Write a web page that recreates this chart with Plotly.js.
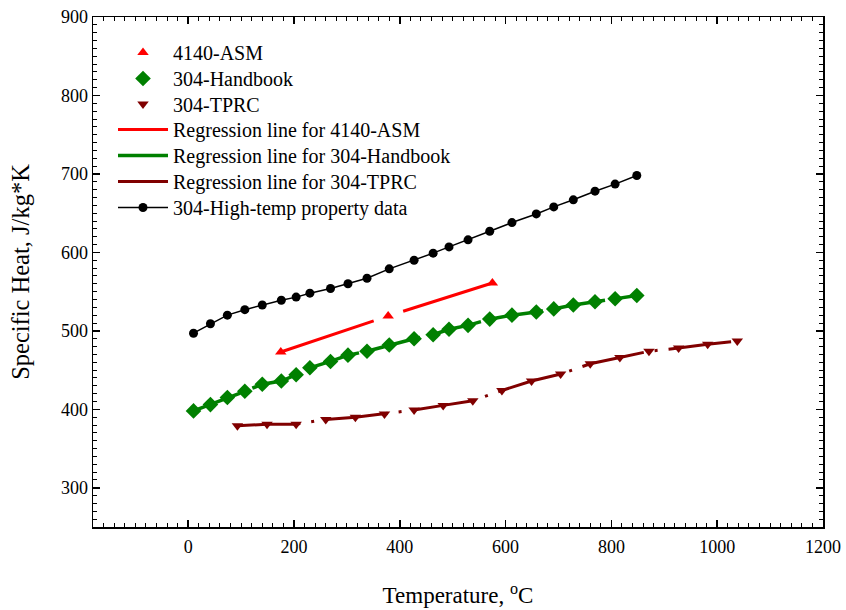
<!DOCTYPE html>
<html>
<head>
<meta charset="utf-8">
<script src="https://cdn.plot.ly/plotly-3.0.1.min.js"></script>
<style>
  html, body { margin: 0; padding: 0; background: #ffffff; }
  #chart { width: 846px; height: 610px; }
</style>
</head>
<body>
<div id="chart"></div>
<script>
// Specific heat of 4140 and 304 steels versus temperature

// 4140 steel, ASM data (°C, J/kg*K)
const tempASM = [175, 378, 575];
const cpASM = [473, 519, 561];

// 304 stainless: handbook values and high-temperature property data share one grid
const temp304 = [10, 42, 74, 107, 140, 176, 204, 230, 269, 302, 338, 380,
                 427, 463, 493, 529, 570, 612, 658, 691, 728, 769, 807, 848];
const cpHandbook = [398, 406, 415, 423, 432, 436, 444, 453, 461, 469, 474, 482,
                    490, 495, 502, 507, 515, 520, 524, 528, 533, 537, 541, 545];
const cpHighTemp = [497, 509, 520, 527, 533, 539, 543, 548, 554, 560, 567, 579,
                    590, 599, 607, 616, 627, 638, 649, 658, 667, 678, 687, 698];

// 304 stainless, TPRC data
const tempTPRC = [93, 149, 204, 260, 316, 371, 427, 482, 538,
                  593, 649, 704, 760, 816, 871, 927, 982, 1038];
const cpTPRC = [379, 381, 381, 387, 390, 394, 399, 405, 411,
                424, 436, 445, 458, 466, 474, 478, 483, 487];

const xTickVals = [0, 200, 400, 600, 800, 1000, 1200];
const yTickVals = [300, 400, 500, 600, 700, 800, 900];

const RED = '#ff0000';
const GREEN = '#008000';
const MAROON = '#800000';
const SERIF = 'Liberation Serif, Times New Roman, serif';

const traces = [
  // regression lines (drawn first so the symbols sit on top)
  {
    x: tempASM, y: cpASM, mode: 'lines', name: 'Regression line for 4140-ASM',
    legend: 'legend4',
    line: { color: RED, width: 3, dash: '98px,14px,3px,14px' }
  },
  {
    x: temp304, y: cpHandbook, mode: 'lines', name: 'Regression line for 304-Handbook',
    legend: 'legend5',
    line: { color: GREEN, width: 3.5, dash: '50px,13px' }
  },
  {
    x: tempTPRC, y: cpTPRC, mode: 'lines', name: 'Regression line for 304-TPRC',
    legend: 'legend6',
    line: { color: MAROON, width: 3, dash: '63px,11px,3px,11px' }
  },
  // measured points
  {
    x: tempASM, y: cpASM, mode: 'markers', name: '4140-ASM',
    legend: 'legend',
    marker: { symbol: 'triangle-up', size: 10, color: RED }
  },
  {
    x: temp304, y: cpHandbook, mode: 'markers', name: '304-Handbook',
    legend: 'legend2',
    marker: { symbol: 'diamond', size: 12, color: GREEN }
  },
  {
    x: tempTPRC, y: cpTPRC, mode: 'markers', name: '304-TPRC',
    legend: 'legend3',
    marker: { symbol: 'triangle-down', size: 10, color: MAROON }
  },
  {
    x: temp304, y: cpHighTemp, mode: 'lines+markers', name: '304-High-temp property data',
    legend: 'legend7',
    line: { color: '#000000', width: 1.5 },
    marker: { symbol: 'circle', size: 9, color: '#000000' }
  }
];

// one single-entry legend per row, stacked in the upper-left of the plot
const legendTops = [0.9686, 0.9176, 0.8676, 0.8176, 0.7667, 0.7157, 0.6647];
function legendBox(y) {
  return {
    x: 0.0274, y: y, xanchor: 'left', yanchor: 'top',
    bgcolor: 'rgba(0,0,0,0)', borderwidth: 0,
    font: { family: SERIF, size: 20, color: '#000000' },
    itemwidth: 50
  };
}

const axisCommon = {
  showline: true, linecolor: '#000000', linewidth: 1.5, mirror: 'allticks',
  ticks: 'inside', ticklen: 7, tickwidth: 1.5, tickcolor: '#000000',
  showgrid: false, zeroline: false,
  tickfont: { family: SERIF, size: 18, color: '#000000' }
};

const layout = {
  width: 846, height: 610,
  margin: { l: 93, r: 23, t: 17, b: 83 },
  paper_bgcolor: '#ffffff', plot_bgcolor: '#ffffff',
  font: { family: SERIF, color: '#000000' },
  showlegend: true,
  xaxis: Object.assign({}, axisCommon, {
    range: [-180, 1200],
    tickmode: 'array', tickvals: xTickVals, ticktext: xTickVals.map(String),
    ticklabelstandoff: 3,
    minor: { dtick: 20, tick0: 0, ticks: 'inside', ticklen: 4, tickwidth: 1, tickcolor: '#000000' },
    title: { text: 'Temperature, <sup>o</sup>C', font: { family: SERIF, size: 23 }, standoff: 31 }
  }),
  yaxis: Object.assign({}, axisCommon, {
    range: [250, 900],
    tickmode: 'array', tickvals: yTickVals, ticktext: yTickVals.map(String),
    minor: { dtick: 10, tick0: 0, ticks: 'inside', ticklen: 4, tickwidth: 1, tickcolor: '#000000' },
    title: { text: 'Specific Heat, J/kg*K', font: { family: SERIF, size: 24.5 }, standoff: 24 }
  })
};
legendTops.forEach(function (y, i) {
  layout[i === 0 ? 'legend' : 'legend' + (i + 1)] = legendBox(y);
});

Plotly.newPlot('chart', traces, layout, { displayModeBar: false, staticPlot: true });
</script>
</body>
</html>
